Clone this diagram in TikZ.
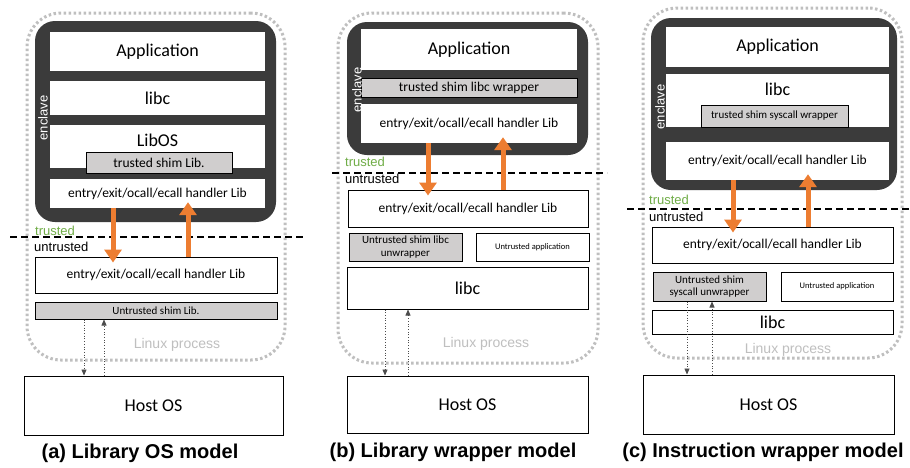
\documentclass[tikz,border=0pt]{standalone}
\usepackage{fontspec}
\setmainfont{Carlito}
\newfontfamily\arialfont{Liberation Sans}
\usetikzlibrary{arrows.meta}
\definecolor{enclgray}{HTML}{3B3B3B}
\definecolor{shimgray}{HTML}{D0CECE}
\definecolor{procgray}{HTML}{BFBFBF}
\definecolor{callorange}{HTML}{ED7D31}
\definecolor{trustgreen}{HTML}{70AD47}
\tikzset{
  sz/.style 2 args={minimum width=#1pt, minimum height=#2pt},
  layer/.style={draw=black, line width=1pt, fill=white, inner sep=0pt, align=center},
  inlayer/.style={fill=white, inner sep=0pt},
  shimbox/.style={draw=black, line width=1pt, fill=shimgray, inner sep=0pt, align=center},
  process/.style={draw=procgray, line width=3pt, dash pattern=on 2.5pt off 2.5pt, rounded corners=34pt, inner sep=0pt},
  enclavebox/.style={fill=enclgray, rounded corners=20pt, inner sep=0pt},
  bigtxt/.style={font=\fontsize{18}{20}\selectfont},
  midtxt/.style={font=\fontsize{13.5}{15}\selectfont},
  smalltxt/.style={font=\fontsize{11}{12.5}\selectfont},
  tinytxt/.style={font=\fontsize{8.5}{10}\selectfont},
  sidetxt/.style={font=\arialfont\fontsize{13}{14}\selectfont, anchor=west, inner sep=0pt},
  encltxt/.style={font=\arialfont\fontsize{13}{14}\selectfont, text=white, rotate=90, inner sep=0pt},
  proctxt/.style={font=\arialfont\fontsize{14}{16}\selectfont, text=procgray, inner sep=0pt},
  caption/.style={font=\arialfont\bfseries\fontsize{20}{22}\selectfont, inner sep=0pt},
  ecall/.style={callorange, line width=5pt, -{Triangle[width=17pt,length=13pt]}, shorten >=-6pt},
  syscall/.style={black!70, line width=0.7pt, dotted, -{Triangle[width=5pt,length=6pt]}},
  boundary/.style={line width=1.4pt, dash pattern=on 7pt off 4pt}
}
\begin{document}
\begin{tikzpicture}[x=1pt,y=-1pt]
\path[use as bounding box, fill=white] (0,0) rectangle (910,467);

\node[process, sz={258}{347}] (aproc) at (156,186.5) {};
\node[enclavebox, sz={241}{201}] (aencl) at (155.5,121.5) {};
\node[inlayer, bigtxt, sz={215}{39}] (aapp) at (157.5,51.5) {Application};
\node[inlayer, bigtxt, sz={215}{34}] (alibc) at (157.5,98) {libc};
\node[inlayer, sz={215}{43}] (alibos) at (157.5,146.5) {};
\node[bigtxt, inner sep=0pt] (alibostxt) at (157.5,140) {LibOS};
\node[shimbox, midtxt, sz={146}{21}] (atshim) at (159,162.5) {trusted shim Lib.};
\node[inlayer, midtxt, sz={215}{29}] (aehdl) at (157.5,193.5) {entry/exit/ocall/ecall handler Lib};
\node[encltxt] (aencltxt) at (43,118) {enclave};
\node[sidetxt, text=trustgreen] (atr) at (35,231) {trusted};
\node[sidetxt] (autr) at (34,247) {untrusted};
\coordinate (abl) at (10,237);
\coordinate (abr) at (305,237);
\draw[boundary] (abl) -- (abr);
\node[layer, midtxt, sz={242}{36}] (auhdl) at (156,275) {entry/exit/ocall/ecall handler Lib};
\node[shimbox, smalltxt, sz={242}{17}] (aushim) at (156,310.5) {Untrusted shim Lib.};
\node[proctxt] (aproctxt) at (177,345) {Linux process};
\node[layer, bigtxt, sz={259}{59}] (ahost) at (153.5,405.5) {Host OS};
\node[caption] (acap) at (140,453) {(a) Library OS model};
\draw[ecall] ([xshift=-44.5pt]aehdl.south) -- ([xshift=-43pt]auhdl.north);
\draw[ecall] ([xshift=32pt]auhdl.north) -- ([xshift=30.5pt]aehdl.south);
\draw[syscall] ([xshift=-72pt]aushim.south) -- ([xshift=-69.5pt]ahost.north);
\draw[syscall] ([xshift=-49.5pt]ahost.north) -- ([xshift=-52pt]aushim.south);

\node[process, sz={260}{350}] (bproc) at (468,188) {};
\node[enclavebox, sz={241}{133}] (bencl) at (467.5,88.5) {};
\node[inlayer, bigtxt, sz={216}{41}] (bapp) at (469,49.5) {Application};
\node[shimbox, midtxt, sz={216}{19}] (btshim) at (469,87.5) {trusted shim libc wrapper};
\node[inlayer, midtxt, sz={216}{39}] (behdl) at (469,123.5) {entry/exit/ocall/ecall handler Lib};
\node[encltxt] (bencltxt) at (357,90) {enclave};
\node[sidetxt, text=trustgreen] (btr) at (345,162) {trusted};
\node[sidetxt] (butr) at (345,179) {untrusted};
\coordinate (bbl) at (332,173);
\coordinate (bbr) at (607,173);
\draw[boundary] (bbl) -- (bbr);
\node[layer, midtxt, sz={240}{37}] (buhdl) at (468,208.5) {entry/exit/ocall/ecall handler Lib};
\node[shimbox, smalltxt, sz={113}{28}] (bushim) at (405.5,247) {Untrusted shim libc\\unwrapper};
\node[layer, tinytxt, sz={113}{28}] (buapp) at (532.5,247) {Untrusted application};
\node[layer, bigtxt, sz={241}{42}] (blibc) at (467.5,288) {libc};
\node[proctxt] (bproctxt) at (486,344) {Linux process};
\node[layer, bigtxt, sz={241}{57}] (bhost) at (467.5,404.5) {Host OS};
\node[caption] (bcap) at (453,452) {(b) Library wrapper model};
\draw[ecall] ([xshift=-41pt]behdl.south) -- ([xshift=-40pt]buhdl.north);
\draw[ecall] ([xshift=35pt]buhdl.north) -- ([xshift=34pt]behdl.south);
\draw[syscall] ([xshift=-82.5pt]blibc.south) -- ([xshift=-82.5pt]bhost.north);
\draw[syscall] ([xshift=-59.5pt]bhost.north) -- ([xshift=-59.5pt]blibc.south);

\node[process, sz={259}{350}] (cproc) at (772.5,183) {};
\node[enclavebox, sz={246}{172}] (cencl) at (774,104) {};
\node[inlayer, bigtxt, sz={223}{40}] (capp) at (777.5,47) {Application};
\node[inlayer, sz={223}{53}] (clibc) at (777.5,100.5) {};
\node[bigtxt, inner sep=0pt] (clibctxt) at (777.5,89) {libc};
\node[shimbox, smalltxt, sz={147}{22}] (ctshim) at (774.5,116) {trusted shim syscall wrapper};
\node[inlayer, midtxt, sz={223}{38}] (cehdl) at (777.5,161) {entry/exit/ocall/ecall handler Lib};
\node[encltxt] (cencltxt) at (660,107) {enclave};
\node[sidetxt, text=trustgreen] (ctr) at (649,200) {trusted};
\node[sidetxt] (cutr) at (649,217) {untrusted};
\coordinate (cbl) at (627,209);
\coordinate (cbr) at (910,209);
\draw[boundary] (cbl) -- (cbr);
\node[layer, midtxt, sz={241}{36}] (cuhdl) at (772.5,245) {entry/exit/ocall/ecall handler Lib};
\node[shimbox, smalltxt, sz={113}{29}] (cushim) at (709.5,286.5) {Untrusted shim\\syscall unwrapper};
\node[layer, tinytxt, sz={112}{29}] (cuapp) at (837,286.5) {Untrusted application};
\node[layer, bigtxt, sz={241}{24}] (culibc) at (772.5,322) {libc};
\node[proctxt] (cproctxt) at (788,350) {Linux process};
\node[layer, bigtxt, sz={251}{59}] (chost) at (768.5,404.5) {Host OS};
\node[caption] (ccap) at (763,452) {(c) Instruction wrapper model};
\draw[ecall] ([xshift=-44.5pt]cehdl.south) -- ([xshift=-39.5pt]cuhdl.north);
\draw[ecall] ([xshift=35.5pt]cuhdl.north) -- ([xshift=30.5pt]cehdl.south);
\draw[syscall] ([xshift=-22.5pt]cushim.south) -- ([xshift=-81.5pt]chost.north);
\draw[syscall] ([xshift=-56.5pt]chost.north) -- ([xshift=2.5pt]cushim.south);
\end{tikzpicture}
\end{document}
